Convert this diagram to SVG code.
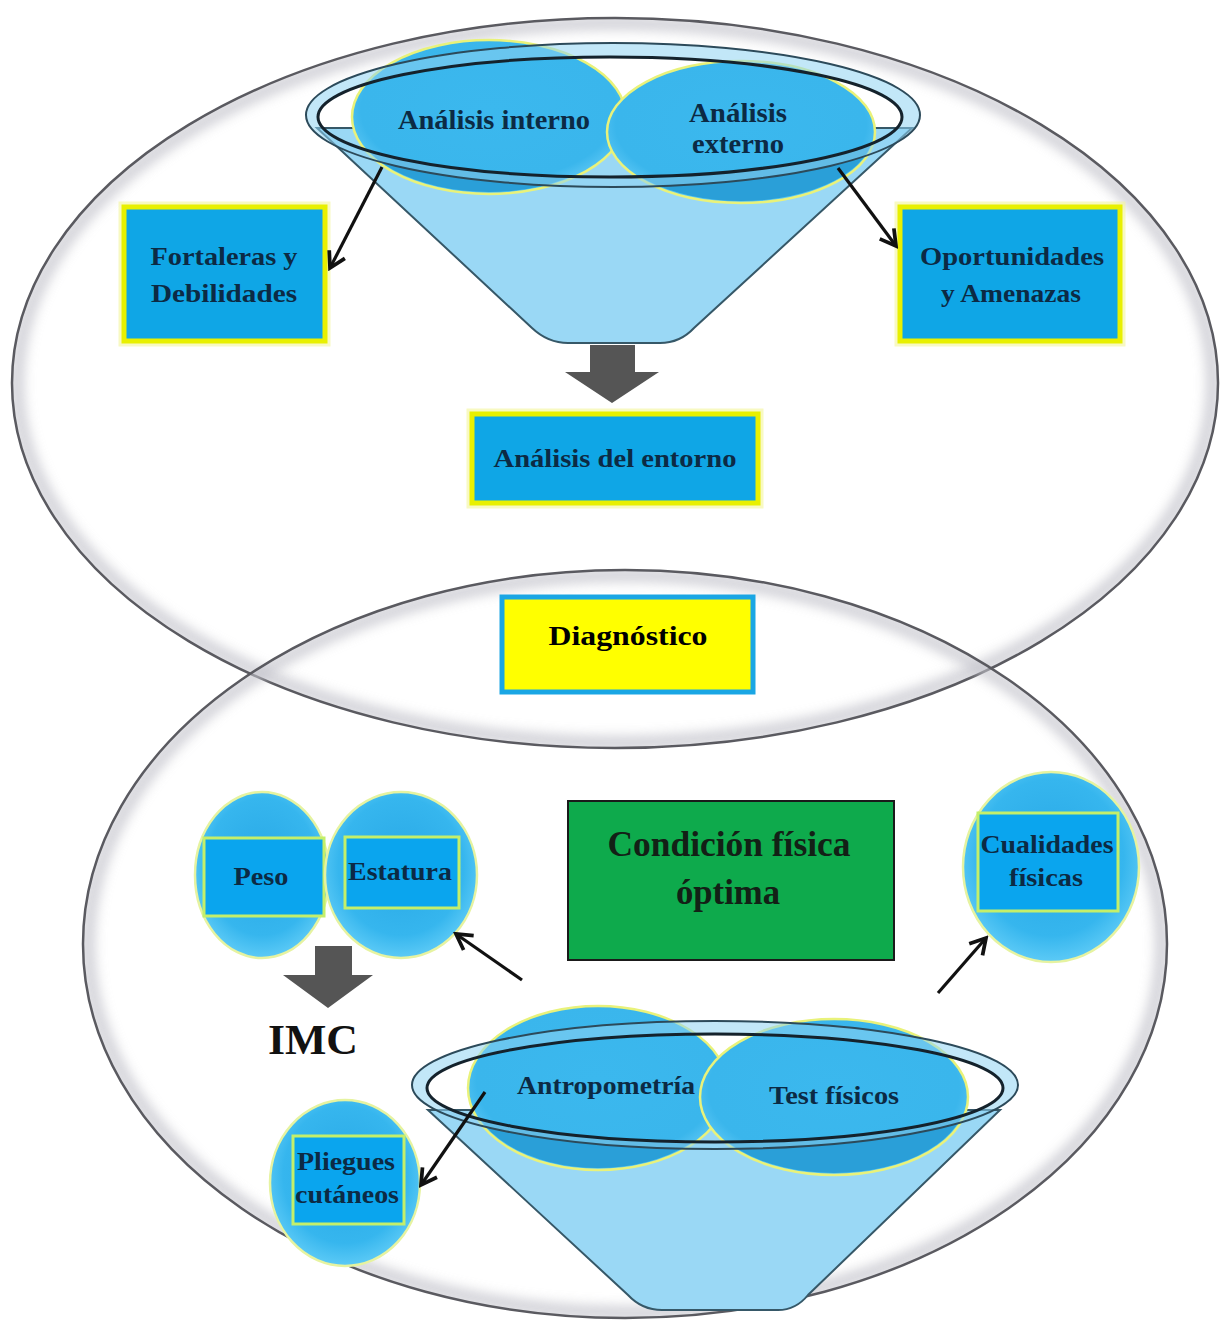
<svg xmlns="http://www.w3.org/2000/svg" width="1220" height="1322" viewBox="0 0 1220 1322">
<style>
  .big{fill:none;stroke:#5a5a60;stroke-width:2.5}
  .shadow{fill:none;stroke:#c4c4cc;stroke-width:14;opacity:0.75}
  .box{fill:#0fa6e6;stroke:#e8f000;stroke-width:5}
  .glow{fill:none;stroke:#f4f59a;stroke-width:11;opacity:0.6}
  .bt{font-family:"Liberation Serif","Times New Roman",serif;font-weight:bold;fill:#0c2a44;text-anchor:middle}
  .body{fill:#9ad8f5;stroke:#365868;stroke-width:2}
  .oval{fill:url(#ovalG);stroke:#e9f27a;stroke-width:2.5}
  .ovalDark{fill:#2a9fd8}
  .ring{fill:#8fd3f3;fill-opacity:0.55;fill-rule:evenodd;stroke:none}
  .rimO{fill:none;stroke:#2c4a5a;stroke-width:2}
  .rimI{fill:none;stroke:#14222c;stroke-width:3}
  .circ{fill:url(#circG);stroke:#e6f3a0;stroke-width:2.5}
  .ibox{fill:#0aa5ee;stroke:#c4ef6a;stroke-width:3}
  .conn{fill:none;stroke:#111;stroke-width:3.2;marker-end:url(#ah)}
  .block{fill:#555555}
</style>
<defs>
  <marker id="ah" markerUnits="userSpaceOnUse" viewBox="0 0 20 20" refX="17" refY="10" markerWidth="22" markerHeight="22" orient="auto">
    <path d="M3,2 L17,10 L3,18" fill="none" stroke="#111" stroke-width="3.4"/>
  </marker>
  <radialGradient id="circG" cx="0.5" cy="0.45" r="0.55">
    <stop offset="0" stop-color="#28a8e6"/>
    <stop offset="0.75" stop-color="#36b6ee"/>
    <stop offset="1" stop-color="#5ccaf6"/>
  </radialGradient>
  <radialGradient id="ovalG" cx="0.5" cy="0.45" r="0.55">
    <stop offset="0" stop-color="#3bb8ee"/>
    <stop offset="0.85" stop-color="#3ab6ec"/>
    <stop offset="1" stop-color="#5ac6f4"/>
  </radialGradient>
  <filter id="blur" x="-10%" y="-10%" width="120%" height="120%"><feGaussianBlur stdDeviation="6"/></filter>
  <clipPath id="clipTop"><ellipse cx="615" cy="383" rx="603" ry="365"/></clipPath>
  <clipPath id="clipBot"><ellipse cx="625" cy="944" rx="542" ry="374"/></clipPath>
  <clipPath id="belowTop"><path d="M0,117 L318,117 A292,60 0 0 0 902,117 L1220,117 V400 H0 Z"/></clipPath>
  <clipPath id="belowBot"><path d="M0,1088 L427,1088 A288,54 0 0 0 1003,1088 L1220,1088 V1322 H0 Z"/></clipPath>
</defs>
<rect width="1220" height="1322" fill="#ffffff"/>

<!-- big ellipses -->
<g id="ellipse-top">
  <ellipse class="shadow" cx="615" cy="383" rx="598" ry="360" clip-path="url(#clipTop)" filter="url(#blur)"/>
  <ellipse class="big" cx="615" cy="383" rx="603" ry="365"/>
</g>
<g id="ellipse-bottom">
  <ellipse class="shadow" cx="625" cy="944" rx="537" ry="369" clip-path="url(#clipBot)" filter="url(#blur)"/>
  <ellipse class="big" cx="625" cy="944" rx="542" ry="374"/>
</g>

<!-- top funnel -->
<g id="funnel-top">
  <path class="body" d="M317,128 L532,328 Q548,343 568,343 L660,343 Q680,343 694,328 L912,128 Z"/>
  <g id="analisis-interno">
    <ellipse class="oval" cx="489" cy="117" rx="137" ry="77"/>
  </g>
  <g id="analisis-externo">
    <ellipse class="oval" cx="741" cy="132" rx="134" ry="71"/>
  </g>
  <g clip-path="url(#belowTop)">
    <ellipse class="ovalDark" cx="489" cy="117" rx="135" ry="75"/>
    <ellipse class="ovalDark" cx="741" cy="132" rx="132" ry="69"/>
  </g>
  <path class="ring" d="M306,115 A307,72 0 1 0 920,115 A307,72 0 1 0 306,115 Z M318,117 A292,60 0 1 1 902,117 A292,60 0 1 1 318,117 Z"/>
  <ellipse class="rimO" cx="613" cy="115" rx="307" ry="72"/>
  <ellipse class="rimI" cx="610" cy="117" rx="292" ry="60"/>
  <text class="bt" x="494" y="129" font-size="27" textLength="192" lengthAdjust="spacingAndGlyphs">Análisis interno</text>
  <text class="bt" x="738" y="122" font-size="27" textLength="98" lengthAdjust="spacingAndGlyphs">Análisis</text>
  <text class="bt" x="738" y="153" font-size="27" textLength="92" lengthAdjust="spacingAndGlyphs">externo</text>
</g>

<g id="fortalezas">
  <rect class="glow" x="124" y="207" width="201" height="134"/>
  <rect class="box" x="124" y="207" width="201" height="134"/>
  <text class="bt" x="224" y="265" font-size="25" textLength="147" lengthAdjust="spacingAndGlyphs">Fortaleras y</text>
  <text class="bt" x="224" y="302" font-size="25" textLength="146" lengthAdjust="spacingAndGlyphs">Debilidades</text>
</g>
<g id="oportunidades">
  <rect class="glow" x="900" y="207" width="220" height="134"/>
  <rect class="box" x="900" y="207" width="220" height="134"/>
  <text class="bt" x="1012" y="265" font-size="25" textLength="184" lengthAdjust="spacingAndGlyphs">Oportunidades</text>
  <text class="bt" x="1011" y="302" font-size="25" textLength="140" lengthAdjust="spacingAndGlyphs">y Amenazas</text>
</g>
<g id="entorno">
  <rect class="glow" x="472" y="414" width="286" height="89"/>
  <rect class="box" x="472" y="414" width="286" height="89"/>
  <text class="bt" x="615" y="467" font-size="26" textLength="243" lengthAdjust="spacingAndGlyphs">Análisis del entorno</text>
</g>
<g id="diagnostico">
  <rect x="502" y="597" width="251" height="95" fill="#ffff00" stroke="#1aa6e4" stroke-width="5"/>
  <text x="628" y="645" font-family="Liberation Serif,'Times New Roman',serif" font-weight="bold" font-size="28" fill="#000" text-anchor="middle" textLength="159" lengthAdjust="spacingAndGlyphs">Diagnóstico</text>
</g>
<g id="condicion">
  <rect x="568" y="801" width="326" height="159" fill="#0eaa4c" stroke="#1a1a1a" stroke-width="2"/>
  <text x="729" y="856" font-family="Liberation Serif,'Times New Roman',serif" font-weight="bold" font-size="35" fill="#132016" text-anchor="middle" textLength="243" lengthAdjust="spacingAndGlyphs">Condición física</text>
  <text x="728" y="904" font-family="Liberation Serif,'Times New Roman',serif" font-weight="bold" font-size="35" fill="#132016" text-anchor="middle" textLength="104" lengthAdjust="spacingAndGlyphs">óptima</text>
</g>

<!-- bottom circles -->
<g id="peso">
  <ellipse class="circ" cx="262" cy="875" rx="67" ry="83"/>
  <rect class="ibox" x="204" y="838" width="120" height="78"/>
  <text class="bt" x="261" y="885" font-size="25" textLength="55" lengthAdjust="spacingAndGlyphs">Peso</text>
</g>
<g id="estatura">
  <ellipse class="circ" cx="401" cy="875" rx="76" ry="83"/>
  <rect class="ibox" x="345" y="837" width="114" height="71"/>
  <text class="bt" x="400" y="880" font-size="25" textLength="104" lengthAdjust="spacingAndGlyphs">Estatura</text>
</g>
<g id="cualidades">
  <ellipse class="circ" cx="1051" cy="867" rx="88" ry="95"/>
  <rect class="ibox" x="978" y="813" width="140" height="98"/>
  <text class="bt" x="1047" y="853" font-size="25" textLength="133" lengthAdjust="spacingAndGlyphs">Cualidades</text>
  <text class="bt" x="1046" y="886" font-size="25" textLength="74" lengthAdjust="spacingAndGlyphs">físicas</text>
</g>
<g id="imc">
  <text x="313" y="1054" font-family="Liberation Serif,'Times New Roman',serif" font-weight="bold" font-size="42" fill="#111" text-anchor="middle" textLength="90" lengthAdjust="spacingAndGlyphs">IMC</text>
</g>

<!-- bottom funnel -->
<g id="funnel-bottom">
  <path class="body" d="M428,1110 L628,1295 Q642,1310 662,1310 L778,1310 Q796,1310 808,1295 L1000,1110 Z"/>
  <g id="antropometria">
    <ellipse class="oval" cx="598" cy="1088" rx="130" ry="82"/>
  </g>
  <g id="test-fisicos">
    <ellipse class="oval" cx="834" cy="1097" rx="134" ry="78"/>
  </g>
  <g clip-path="url(#belowBot)">
    <ellipse class="ovalDark" cx="598" cy="1088" rx="128" ry="80"/>
    <ellipse class="ovalDark" cx="834" cy="1097" rx="132" ry="76"/>
  </g>
  <path class="ring" d="M412,1085 A303,64 0 1 0 1018,1085 A303,64 0 1 0 412,1085 Z M427,1088 A288,54 0 1 1 1003,1088 A288,54 0 1 1 427,1088 Z"/>
  <ellipse class="rimO" cx="715" cy="1085" rx="303" ry="64"/>
  <ellipse class="rimI" cx="715" cy="1088" rx="288" ry="54"/>
  <text class="bt" x="606" y="1094" font-size="26" textLength="178" lengthAdjust="spacingAndGlyphs">Antropometría</text>
  <text class="bt" x="834" y="1104" font-size="26" textLength="130" lengthAdjust="spacingAndGlyphs">Test físicos</text>
</g>
<g id="pliegues">
  <ellipse class="circ" cx="345" cy="1183" rx="75" ry="83"/>
  <rect class="ibox" x="293" y="1136" width="111" height="88"/>
  <text class="bt" x="346" y="1170" font-size="25" textLength="98" lengthAdjust="spacingAndGlyphs">Pliegues</text>
  <text class="bt" x="347" y="1203" font-size="25" textLength="104" lengthAdjust="spacingAndGlyphs">cutáneos</text>
</g>

<!-- connectors -->
<g id="connectors">
  <path class="conn" d="M382,167 L330,268"/>
  <path class="conn" d="M838,168 L896,246"/>
  <path class="block" d="M590,345 H635 V372 H659 L612,403 L565,372 H590 Z"/>
  <path class="conn" d="M522,980 L456,934"/>
  <path class="conn" d="M938,993 L986,938"/>
  <path class="block" d="M315,946 H352 V975 H373 L328,1008 L283,975 H315 Z"/>
  <path class="conn" d="M485,1092 L421,1185"/>
</g>
</svg>
